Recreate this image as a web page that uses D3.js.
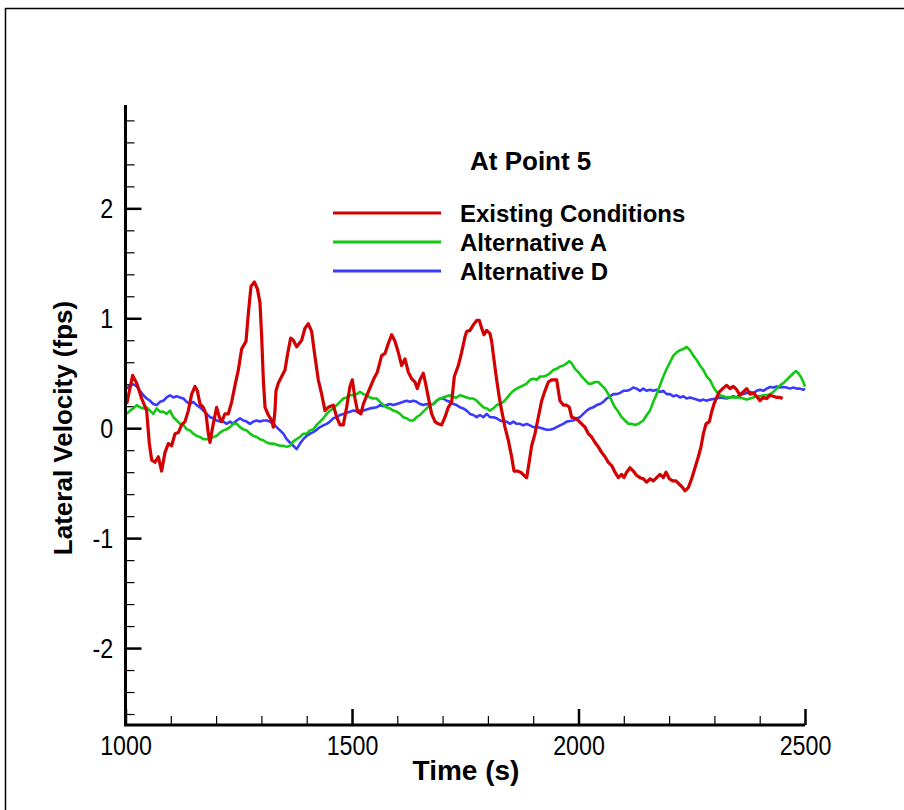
<!DOCTYPE html>
<html lang="en">
<head>
  <title>Lateral Velocity - At Point 5</title>
  <meta charset="UTF-8">
  <script src="https://cdn.jsdelivr.net/npm/d3@7/dist/d3.min.js"></script>
  <style>
  body { margin: 0; background: #fff; }
  svg text { fill: #000; }
  .tick-label text {
    font-family: "Liberation Sans", Arial, sans-serif;
    font-size: 28px;
  }
  .axis-title {
    font-family: "Liberation Sans", Arial, sans-serif;
    font-weight: bold;
  }
  .legend text {
    font-family: "Liberation Sans", Arial, sans-serif;
    font-weight: bold;
    font-size: 24px;
  }
  .legend text.title { font-size: 26px; }
  </style>
</head>
<body>
<div id="chart"></div>
<script type="text/javascript">
// time (s), lateral velocity (fps)
const existingConditions = [
  [1002.6,0.22],[1015.8,0.48],[1024.6,0.41],[1035.7,0.27],[1046.7,0.16],[1052.6,-0.14],[1057.8,-0.29],
  [1065.1,-0.31],[1072.5,-0.26],[1079.8,-0.39],[1087.2,-0.22],[1094.6,-0.14],[1101.9,-0.16],[1109.3,-0.05],
  [1116.6,-0.04],[1124.0,0.03],[1131.3,0.06],[1138.7,0.16],[1146.1,0.31],[1153.4,0.38],[1158.6,0.34],
  [1164.5,0.22],[1171.8,0.19],[1177.7,0.13],[1182.9,-0.05],[1186.5,-0.13],[1192.4,0.01],[1201.2,0.19],
  [1207.1,0.10],[1212.3,0.06],[1219.6,0.13],[1227.0,0.13],[1234.4,0.24],[1241.7,0.39],[1249.1,0.53],
  [1256.4,0.72],[1266.0,0.79],[1271.1,1.04],[1277.0,1.29],[1284.4,1.33],[1291.0,1.27],[1296.9,1.14],
  [1300.6,0.83],[1304.3,0.44],[1308.0,0.19],[1315.3,0.12],[1322.7,0.07],[1326.3,0.01],[1330.0,0.16],
  [1332.2,0.34],[1337.4,0.41],[1344.7,0.47],[1352.1,0.53],[1358.0,0.68],[1364.6,0.82],[1370.5,0.80],
  [1377.8,0.74],[1388.9,0.80],[1396.2,0.91],[1403.6,0.95],[1410.9,0.88],[1418.3,0.65],[1425.6,0.44],
  [1433.0,0.31],[1440.4,0.16],[1447.7,0.19],[1458.8,0.21],[1466.1,0.10],[1473.5,0.03],[1480.8,0.03],
  [1488.2,0.19],[1495.5,0.38],[1500.7,0.44],[1506.6,0.27],[1512.5,0.15],[1519.8,0.13],[1525.0,0.22],
  [1536.0,0.33],[1547.1,0.44],[1555.9,0.51],[1565.4,0.66],[1572.8,0.68],[1580.2,0.77],[1587.5,0.85],
  [1594.9,0.79],[1602.2,0.69],[1609.6,0.57],[1617.0,0.63],[1624.3,0.51],[1631.7,0.45],[1639.0,0.42],
  [1644.2,0.36],[1650.1,0.44],[1657.4,0.50],[1663.3,0.39],[1668.5,0.28],[1675.8,0.13],[1683.2,0.06],
  [1690.5,0.04],[1697.9,0.03],[1705.2,0.10],[1712.6,0.19],[1720.0,0.24],[1725.9,0.47],[1734.7,0.57],
  [1742.0,0.69],[1749.4,0.83],[1753.1,0.88],[1760.5,0.89],[1767.8,0.94],[1775.2,0.98],[1781.1,0.98],
  [1786.2,0.91],[1791.4,0.85],[1797.3,0.89],[1804.6,0.86],[1808.3,0.79],[1813.5,0.62],[1819.3,0.44],
  [1825.2,0.28],[1830.4,0.16],[1837.7,0.01],[1845.1,-0.11],[1852.4,-0.26],[1857.6,-0.39],[1865.0,-0.39],
  [1872.3,-0.40],[1879.7,-0.43],[1885.6,-0.45],[1890.7,-0.32],[1896.6,-0.16],[1904.0,-0.05],[1911.3,0.10],
  [1918.7,0.25],[1926.0,0.34],[1933.4,0.42],[1940.7,0.44],[1951.8,0.44],[1959.1,0.25],[1966.5,0.21],
  [1973.9,0.21],[1979.7,0.19],[1984.9,0.10],[1992.2,0.09],[1999.6,0.07],[2007.0,0.04],[2014.3,0.01],
  [2021.7,-0.05],[2029.0,-0.08],[2036.4,-0.13],[2043.8,-0.17],[2051.1,-0.22],[2058.5,-0.26],[2065.8,-0.31],
  [2073.2,-0.34],[2080.5,-0.40],[2087.9,-0.45],[2095.3,-0.42],[2100.4,-0.45],[2106.3,-0.40],[2113.7,-0.36],
  [2121.0,-0.39],[2128.4,-0.43],[2135.8,-0.45],[2143.1,-0.46],[2150.5,-0.49],[2157.8,-0.46],[2165.2,-0.48],
  [2172.6,-0.45],[2179.9,-0.42],[2187.3,-0.45],[2193.2,-0.40],[2200.5,-0.46],[2207.9,-0.48],[2215.2,-0.48],
  [2222.6,-0.51],[2230.0,-0.54],[2235.1,-0.57],[2242.5,-0.54],[2249.8,-0.46],[2257.2,-0.36],[2264.5,-0.26],
  [2270.4,-0.17],[2275.6,-0.05],[2281.5,0.04],[2288.8,0.06],[2294.0,0.15],[2299.1,0.22],[2305.0,0.28],
  [2310.9,0.33],[2318.3,0.36],[2327.1,0.39],[2334.4,0.36],[2341.8,0.38],[2349.2,0.35],[2356.5,0.30],
  [2363.9,0.33],[2371.2,0.36],[2378.6,0.31],[2385.9,0.32],[2393.3,0.29],[2400.7,0.25],[2408.0,0.28],
  [2415.4,0.27],[2422.7,0.30],[2430.1,0.29],[2437.5,0.28],[2444.8,0.28],[2450.7,0.27]
];

const alternativeA = [
  [1002.6,0.13],[1010.0,0.16],[1017.3,0.18],[1024.7,0.21],[1032.0,0.19],[1039.4,0.18],[1046.7,0.19],
  [1054.1,0.16],[1061.4,0.13],[1068.8,0.18],[1076.2,0.15],[1083.5,0.15],[1090.9,0.13],[1098.2,0.16],
  [1105.6,0.10],[1113.0,0.07],[1120.3,0.04],[1127.7,0.03],[1135.0,-0.01],[1142.4,-0.02],[1149.7,-0.05],
  [1157.1,-0.07],[1164.5,-0.08],[1171.8,-0.10],[1179.2,-0.10],[1186.5,-0.10],[1193.9,-0.08],[1201.2,-0.07],
  [1208.6,-0.04],[1216.0,-0.02],[1223.3,-0.01],[1230.7,0.01],[1238.0,0.04],[1245.4,0.04],[1252.7,0.01],
  [1260.1,-0.01],[1267.5,-0.02],[1274.8,-0.05],[1282.2,-0.07],[1289.5,-0.08],[1296.9,-0.10],[1304.3,-0.11],
  [1311.6,-0.13],[1319.0,-0.14],[1326.3,-0.14],[1333.7,-0.15],[1341.0,-0.16],[1348.4,-0.16],[1355.8,-0.17],
  [1363.1,-0.16],[1370.5,-0.12],[1377.8,-0.10],[1385.2,-0.08],[1392.5,-0.05],[1399.9,-0.05],[1407.3,-0.02],
  [1414.6,-0.01],[1422.0,0.03],[1429.3,0.06],[1436.7,0.09],[1444.0,0.13],[1451.4,0.16],[1458.8,0.18],
  [1466.1,0.21],[1473.5,0.24],[1480.8,0.27],[1488.2,0.28],[1495.5,0.30],[1502.9,0.30],[1510.3,0.31],
  [1517.6,0.33],[1525.0,0.31],[1532.3,0.30],[1539.7,0.28],[1547.1,0.27],[1554.4,0.27],[1561.8,0.24],
  [1569.1,0.21],[1576.5,0.19],[1583.8,0.18],[1591.2,0.16],[1598.6,0.15],[1605.9,0.13],[1613.3,0.10],
  [1620.6,0.09],[1628.0,0.07],[1635.3,0.07],[1642.7,0.10],[1650.1,0.12],[1657.4,0.15],[1664.8,0.18],
  [1672.1,0.21],[1679.5,0.22],[1686.9,0.25],[1694.2,0.27],[1701.6,0.28],[1708.9,0.29],[1716.3,0.30],
  [1723.6,0.28],[1731.0,0.28],[1738.4,0.30],[1745.7,0.29],[1753.1,0.28],[1760.4,0.27],[1767.8,0.27],
  [1775.2,0.25],[1782.5,0.22],[1789.9,0.19],[1797.3,0.18],[1804.6,0.16],[1812.0,0.18],[1819.3,0.21],
  [1826.7,0.22],[1834.1,0.24],[1841.4,0.27],[1848.8,0.31],[1856.1,0.34],[1863.5,0.36],[1870.8,0.375],
  [1878.2,0.39],[1885.6,0.405],[1892.9,0.44],[1900.3,0.45],[1907.6,0.44],[1915.0,0.47],[1922.4,0.47],
  [1929.7,0.48],[1937.1,0.50],[1944.4,0.53],[1951.8,0.54],[1959.1,0.56],[1966.5,0.57],[1973.9,0.59],
  [1979.7,0.61],[1984.9,0.59],[1992.2,0.54],[1999.6,0.51],[2007.0,0.47],[2014.3,0.44],[2021.7,0.405],
  [2029.0,0.405],[2036.4,0.42],[2043.8,0.42],[2051.1,0.39],[2058.5,0.36],[2065.8,0.31],[2073.2,0.25],
  [2080.5,0.19],[2087.9,0.15],[2095.3,0.10],[2102.6,0.07],[2110.0,0.04],[2117.3,0.04],[2124.7,0.03],
  [2132.0,0.04],[2143.1,0.07],[2150.5,0.12],[2157.8,0.16],[2165.2,0.24],[2172.6,0.31],[2179.9,0.39],
  [2187.3,0.47],[2194.6,0.54],[2202.0,0.60],[2209.4,0.66],[2216.7,0.69],[2224.1,0.71],[2231.4,0.72],
  [2238.8,0.74],[2246.1,0.71],[2253.5,0.66],[2260.9,0.62],[2268.2,0.57],[2275.6,0.53],[2282.9,0.47],
  [2290.3,0.44],[2297.7,0.375],[2305.0,0.33],[2312.4,0.30],[2319.7,0.29],[2327.1,0.28],[2334.4,0.28],
  [2341.8,0.28],[2349.2,0.28],[2356.5,0.28],[2363.9,0.27],[2371.2,0.26],[2378.6,0.27],[2385.9,0.28],
  [2393.3,0.29],[2400.7,0.29],[2408.0,0.30],[2415.4,0.30],[2422.7,0.31],[2430.1,0.33],[2437.5,0.36],
  [2444.8,0.39],[2452.2,0.41],[2459.5,0.44],[2466.9,0.47],[2474.3,0.50],[2480.1,0.52],[2485.3,0.50],
  [2490.4,0.47],[2496.3,0.42],[2500.0,0.38]
];

const alternativeD = [
  [1002.6,0.36],[1010.0,0.39],[1017.3,0.40],[1024.7,0.38],[1032.0,0.34],[1039.4,0.30],[1046.7,0.27],
  [1054.1,0.25],[1061.4,0.22],[1068.8,0.21],[1076.2,0.24],[1083.5,0.25],[1090.9,0.28],[1098.2,0.30],
  [1105.6,0.28],[1113.0,0.29],[1120.3,0.28],[1127.7,0.27],[1135.0,0.24],[1142.4,0.22],[1149.7,0.24],
  [1157.1,0.21],[1164.5,0.19],[1171.8,0.16],[1179.2,0.13],[1186.5,0.10],[1193.9,0.09],[1201.2,0.07],
  [1208.6,0.06],[1216.0,0.06],[1223.3,0.04],[1230.7,0.06],[1238.0,0.04],[1245.4,0.07],[1252.7,0.09],
  [1260.1,0.07],[1267.5,0.06],[1274.8,0.04],[1282.2,0.06],[1289.5,0.07],[1296.9,0.06],[1304.3,0.07],
  [1311.6,0.07],[1319.0,0.06],[1326.3,0.04],[1333.7,0.01],[1341.0,-0.02],[1348.4,-0.05],[1355.8,-0.10],
  [1363.1,-0.13],[1370.5,-0.16],[1377.8,-0.19],[1385.2,-0.14],[1392.5,-0.10],[1399.9,-0.07],[1407.3,-0.05],
  [1414.6,-0.035],[1422.0,-0.015],[1429.3,0.01],[1436.7,0.025],[1444.0,0.04],[1451.4,0.06],[1458.8,0.09],
  [1466.1,0.10],[1473.5,0.12],[1480.8,0.13],[1488.2,0.14],[1495.5,0.15],[1502.9,0.16],[1510.3,0.155],
  [1517.6,0.16],[1525.0,0.16],[1532.3,0.17],[1539.7,0.18],[1547.1,0.185],[1554.4,0.19],[1561.8,0.21],
  [1569.1,0.20],[1576.5,0.21],[1583.8,0.22],[1591.2,0.21],[1598.6,0.22],[1605.9,0.23],[1613.3,0.24],
  [1620.6,0.25],[1628.0,0.24],[1635.3,0.25],[1642.7,0.24],[1650.1,0.22],[1657.4,0.21],[1664.8,0.22],
  [1672.1,0.21],[1679.5,0.22],[1686.9,0.25],[1694.2,0.27],[1701.6,0.27],[1708.9,0.25],[1716.3,0.24],
  [1723.6,0.22],[1731.0,0.21],[1738.4,0.19],[1745.7,0.18],[1753.1,0.16],[1760.4,0.13],[1767.8,0.12],
  [1775.2,0.10],[1782.5,0.12],[1789.9,0.10],[1797.3,0.13],[1804.6,0.10],[1812.0,0.10],[1819.3,0.09],
  [1826.7,0.07],[1834.1,0.06],[1841.4,0.06],[1848.8,0.04],[1856.1,0.06],[1863.5,0.04],[1870.8,0.04],
  [1878.2,0.025],[1885.6,0.04],[1892.9,0.025],[1900.3,0.01],[1907.6,0.01],[1915.0,0.004],[1922.4,-0.005],
  [1929.7,-0.014],[1937.1,-0.014],[1944.4,-0.005],[1951.8,0.01],[1959.1,0.025],[1966.5,0.04],[1973.9,0.06],
  [1981.2,0.065],[1988.6,0.07],[1995.9,0.09],[2003.3,0.10],[2010.6,0.13],[2018.0,0.16],[2025.4,0.18],
  [2032.7,0.19],[2040.1,0.21],[2047.4,0.22],[2054.8,0.24],[2062.2,0.27],[2069.5,0.29],[2076.9,0.31],
  [2084.2,0.31],[2091.6,0.32],[2098.9,0.34],[2106.3,0.34],[2113.7,0.35],[2121.0,0.37],[2128.4,0.36],
  [2135.7,0.34],[2143.1,0.36],[2150.5,0.34],[2157.8,0.35],[2165.2,0.34],[2172.6,0.35],[2179.9,0.33],
  [2187.3,0.34],[2194.6,0.31],[2202.0,0.31],[2209.4,0.29],[2216.7,0.30],[2224.1,0.28],[2231.4,0.29],
  [2238.8,0.27],[2246.1,0.28],[2253.5,0.27],[2260.9,0.26],[2268.2,0.25],[2275.6,0.26],[2282.9,0.25],
  [2290.3,0.26],[2297.7,0.265],[2305.0,0.27],[2312.4,0.28],[2319.7,0.275],[2327.1,0.27],[2334.4,0.28],
  [2341.8,0.29],[2349.2,0.28],[2356.5,0.31],[2363.9,0.31],[2371.2,0.32],[2378.6,0.33],[2385.9,0.32],
  [2393.3,0.34],[2400.7,0.35],[2408.0,0.34],[2415.4,0.36],[2422.7,0.375],[2430.1,0.37],[2437.5,0.38],
  [2444.8,0.37],[2452.2,0.375],[2459.5,0.37],[2466.9,0.36],[2474.3,0.37],[2481.6,0.36],[2489.0,0.36],
  [2496.3,0.35],[2500.0,0.36]
];

const seriesNames = ['Existing Conditions', 'Alternative A', 'Alternative D'];
const seriesColors = ['#d20000', '#12c812', '#3a3aff'];
const xMajorTicks = [1000, 1500, 2000, 2500];
const yMajorTicks = [-2, -1, 0, 1, 2];
const chartTitle = 'At Point 5';

const width = 904, height = 810;
const svg = d3.select('#chart').append('svg')
  .attr('width', width).attr('height', height);

// outer frame (only top and left edges are inside the picture)
svg.append('path')
  .attr('d', 'M5.5,812 V8.5 H906')
  .attr('fill', 'none')
  .attr('stroke', '#000')
  .attr('stroke-width', 1.5);

const x = d3.scaleLinear().domain([1000, 2500]).range([125.5, 805]);
const y = d3.scaleLinear().domain([-2.7, 2.94]).range([725, 105]);

const xMinor = d3.range(1100, 2500, 100).filter(v => !xMajorTicks.includes(v));
const yMinor = d3.range(-26, 29, 2).map(v => v / 10).filter(v => !yMajorTicks.includes(v));

// tick labels are narrow in the original, squeeze them horizontally
const narrow = g => g.selectAll('text')
  .attr('font-size', null).attr('font-family', null)
  .attr('transform', 'scale(0.83,1)');

// minor ticks
svg.append('g')
  .attr('transform', `translate(0,${y(-2.7)})`)
  .call(d3.axisBottom(x).tickValues(xMinor).tickSize(-9).tickSizeOuter(0).tickFormat(''))
  .call(g => g.select('.domain').remove())
  .call(g => g.selectAll('line').attr('stroke-width', 1.2));
svg.append('g')
  .attr('transform', `translate(${x(1000)},0)`)
  .call(d3.axisLeft(y).tickValues(yMinor).tickSize(-9).tickSizeOuter(0).tickFormat(''))
  .call(g => g.select('.domain').remove())
  .call(g => g.selectAll('line').attr('stroke-width', 1.2));

// major ticks + labels
svg.append('g')
  .attr('class', 'tick-label')
  .attr('transform', `translate(0,${y(-2.7)})`)
  .call(d3.axisBottom(x).tickValues(xMajorTicks).tickSize(-16).tickSizeOuter(0).tickPadding(10).tickFormat(d => String(d)))
  .call(g => g.select('.domain').remove())
  .call(g => g.selectAll('line').attr('stroke-width', 2.5))
  .call(narrow);
svg.append('g')
  .attr('class', 'tick-label')
  .attr('transform', `translate(${x(1000)},0)`)
  .call(d3.axisLeft(y).tickValues(yMajorTicks).tickSize(-16).tickSizeOuter(0).tickPadding(15).tickFormat(d => String(d)))
  .call(g => g.select('.domain').remove())
  .call(g => g.selectAll('line').attr('stroke-width', 2.5))
  .call(narrow);

// series
const line = d3.line().x(d => x(d[0])).y(d => y(d[1]));
const allSeries = [existingConditions, alternativeA, alternativeD];
svg.append('g').selectAll('path')
  .data(allSeries.slice().reverse())
  .join('path')
    .attr('d', line)
    .attr('fill', 'none')
    .attr('stroke', (d, i) => seriesColors[2 - i])
    .attr('stroke-width', (d, i) => i === 2 ? 3.2 : 2.6)
    .attr('stroke-linejoin', 'round');

// axis lines
svg.append('path')
  .attr('d', `M${x(1000)},${y(2.94)} V${y(-2.7)} H${x(2500)}`)
  .attr('fill', 'none')
  .attr('stroke', '#000')
  .attr('stroke-width', 3);

// axis titles
svg.append('text')
  .attr('class', 'axis-title')
  .attr('x', 466).attr('y', 780)
  .attr('text-anchor', 'middle')
  .attr('font-size', 28)
  .text('Time (s)');
svg.append('text')
  .attr('class', 'axis-title')
  .attr('transform', 'translate(72,428) rotate(-90)')
  .attr('text-anchor', 'middle')
  .attr('font-size', 26)
  .text('Lateral Velocity (fps)');

// legend
const legend = svg.append('g').attr('class', 'legend');
legend.append('text')
  .attr('class', 'title')
  .attr('x', 470).attr('y', 170)
  .text(chartTitle);
const rows = legend.selectAll('g.row')
  .data(seriesNames)
  .join('g')
    .attr('class', 'row')
    .attr('transform', (d, i) => `translate(0,${213 + i * 29})`);
rows.append('line')
  .attr('x1', 333).attr('x2', 441)
  .attr('stroke', (d, i) => seriesColors[i])
  .attr('stroke-width', 3);
rows.append('text')
  .attr('x', 460).attr('y', 8.5)
  .text(d => d);
</script>
</body>
</html>
